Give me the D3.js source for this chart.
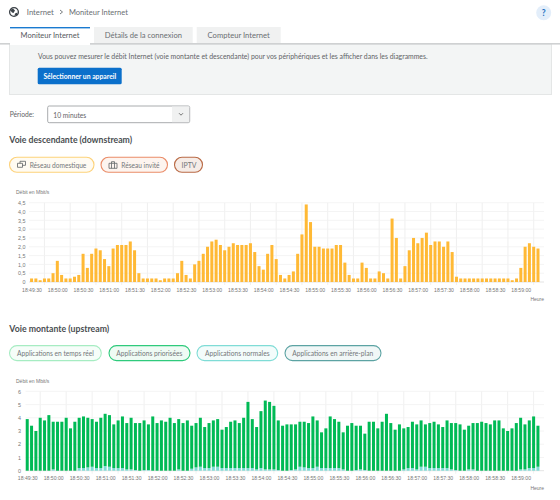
<!DOCTYPE html>
<html lang="fr">
<head>
<meta charset="utf-8">
<title>Moniteur Internet</title>
<script src="https://cdn.jsdelivr.net/npm/d3@7"></script>
<style>
    html, body { margin: 0; padding: 0; background: #fff; }
    svg { display: block; }
    text { font-family: Lato, sans-serif; }
    .chart text { font-family: "Liberation Sans", Arial, sans-serif; }
</style>
</head>
<body>
<div id="page"></div>
<script>
// bars come every 5 seconds, the first one is at 18:49:15
const startTime = new Date(2020, 0, 1, 18, 49, 15);

const downstream = [
    0.2,0.2,0.1,0.2,0.2,0.5,1.2,0.4,0.2,0.2,0.3,0.4,1.6,0.8,1.6,1.9,1.8,1.3,0.9,1.9,
    2.1,2.1,2.1,2.3,1.8,0.5,0.2,0.2,0.2,0.2,0.1,0.2,0.2,0.2,0.5,1.2,0.4,0.2,1.0,1.2,
    1.6,2.0,2.3,2.4,2.1,1.8,2.0,2.2,2.1,2.1,2.1,2.2,1.7,0.9,0.7,1.6,2.1,1.3,0.4,0.2,
    0.4,0.6,1.6,2.7,4.4,3.4,2.0,2.0,1.9,1.9,1.9,2.1,2.1,1.1,0.4,0.2,0.2,1.1,0.8,0.2,
    0.2,0.6,0.5,0.2,3.6,2.5,0.2,0.9,1.8,2.5,2.2,2.5,2.8,2.1,2.3,2.3,2.0,2.3,1.7,0.3,
    0.2,0.2,0.2,0.2,0.2,0.2,0.2,0.2,0.2,0.2,0.2,0.2,0.1,0.2,0.8,2.0,2.2,2.0,1.9
];

const upstreamTotal = [
    3.9,3.4,3.0,4.0,3.8,4.2,3.7,3.7,3.7,4.0,3.2,3.7,4.0,4.1,4.0,3.9,3.7,4.0,4.3,4.2,
    3.5,3.8,4.1,3.6,4.0,3.6,3.6,3.8,3.5,4.1,3.6,3.8,3.7,4.0,3.6,3.9,3.6,3.8,3.4,3.6,
    4.0,3.3,3.6,3.8,3.9,3.1,3.3,3.7,3.8,3.6,4.0,5.2,3.9,3.3,4.5,5.3,5.2,4.9,3.8,3.4,
    3.5,3.5,3.5,3.7,3.7,3.6,4.1,3.8,2.9,3.2,4.1,3.9,3.7,2.9,3.4,3.6,3.4,3.4,2.8,3.7,
    3.7,3.2,3.7,4.3,3.6,3.1,3.5,3.2,3.3,3.7,3.5,3.8,3.5,3.6,3.7,3.5,3.3,3.8,3.6,3.6,
    3.5,3.1,3.4,3.6,3.6,3.7,3.6,3.5,3.8,3.8,3.2,3.0,3.2,3.6,4.0,3.5,3.8,4.1,3.4
];

const upstreamNormal = [
    0,0,0,0,0,0,0.1,0,0,0,0,0,0.2,0.2,0.25,0.3,0.2,0.2,0.35,0.3,
    0.2,0.2,0.2,0.1,0.1,0.05,0,0.05,0.05,0,0,0,0,0,0,0.1,0,0,0.15,0.25,
    0.3,0.2,0.2,0.3,0.3,0.2,0.2,0.2,0.2,0.2,0.2,0.2,0.2,0.1,0.2,0.1,0.1,0.1,0.05,0,
    0,0.05,0.1,0.3,0.25,0.2,0.2,0.3,0.2,0.2,0.2,0.2,0.2,0.1,0,0,0.05,0.1,0.05,0,
    0,0,0,0,0,0,0,0.1,0.2,0.2,0.1,0.3,0.3,0.2,0.2,0.2,0.2,0.2,0.1,0.05,
    0,0,0.1,0.1,0,0,0,0,0,0,0,0,0,0,0.1,0.1,0.2,0.2,0.3
];

const downTicks = [0, 0.5, 1, 1.5, 2, 2.5, 3, 3.5, 4, 4.5];
const upTicks = [0, 1, 2, 3, 4, 5, 6];

const tabLabels = ['Moniteur Internet', 'Détails de la connexion', 'Compteur Internet'];
const downPills = ['Réseau domestique', 'Réseau invité', 'IPTV'];
const upPills = ['Applications en temps réel', 'Applications priorisées', 'Applications normales', 'Applications en arrière-plan'];

const svg = d3.select('#page').append('svg').attr('width', 560).attr('height', 500);

function addText(parent, x, y, str, size, color, weight, anchor) {
    return parent.append('text')
        .attr('x', x).attr('y', y)
        .attr('font-size', size)
        .attr('fill', color)
        .attr('font-weight', weight || 400)
        .attr('text-anchor', anchor || 'start')
        .text(str);
}

// the page font is not installed, so scale the closest one to the measured width
function fitText(parent, x, y, str, width, color, weight, anchor) {
    const t = addText(parent, x, y, str, 8, color, weight, anchor);
    t.attr('font-size', 8 * width / t.node().getComputedTextLength());
    return t;
}

// ---- page header
function drawHeader() {
    const globe = svg.append('g').attr('transform', 'translate(14,12)');
    globe.append('circle').attr('r', 4.4).attr('fill', '#fff').attr('stroke', '#3c4248').attr('stroke-width', 1.3);
    globe.append('path').attr('d', 'M-4,-2 L-1,-3.5 L1,-1.5 L-0.5,1 L-2,0.5 Z M0.5,4 L1,1.5 L3.5,0.5 L3,3 Z').attr('fill', '#3c4248');

    fitText(svg, 26.8, 15, 'Internet', 27, '#6a6e72');
    svg.append('path').attr('d', 'M60,10 L62.5,12 L60,14').attr('fill', 'none').attr('stroke', '#6a6e72').attr('stroke-width', 0.9);
    fitText(svg, 69, 15, 'Moniteur Internet', 59, '#6a6e72');

    svg.append('circle').attr('cx', 543.7).attr('cy', 12.7).attr('r', 7.5).attr('fill', '#e3eefa');
    addText(svg, 543.7, 15.7, '?', 8.5, '#1a6fc0', 700, 'middle');

    // info panel
    svg.append('rect').attr('x', 9.5).attr('y', 44).attr('width', 542).attr('height', 50.5)
        .attr('fill', '#f3f5f5').attr('stroke', '#e4e6e6');
    fitText(svg, 38, 58.8, 'Vous pouvez mesurer le débit Internet (voie montante et descendante) pour vos périphériques et les afficher dans les diagrammes.', 390, '#5f6366');
    svg.append('rect').attr('x', 37.7).attr('y', 67.7).attr('width', 84).attr('height', 16.6).attr('rx', 1.5).attr('fill', '#0b70cb');
    fitText(svg, 79.8, 78.5, 'Sélectionner un appareil', 73, '#fff', 700, 'middle');

    // tabs
    svg.append('rect').attr('x', 0).attr('y', 43).attr('width', 560).attr('height', 1.6).attr('fill', '#cfd1d2');
    const tabX = [10, 94, 196.7];
    const tabW = [80, 98.7, 84];
    const tabTextW = [59, 77.3, 62.3];
    tabLabels.forEach((label, i) => {
        svg.append('rect').attr('x', tabX[i]).attr('y', 27).attr('width', tabW[i]).attr('height', i === 0 ? 18 : 16)
            .attr('fill', i === 0 ? '#fff' : '#f0f1f1');
        fitText(svg, tabX[i] + tabW[i] / 2, 38, label, tabTextW[i], i === 0 ? '#55595c' : '#6a6e72', 400, 'middle');
    });
    svg.append('rect').attr('x', 10).attr('y', 27).attr('width', 80).attr('height', 1.4).attr('fill', '#1a7ad0');

    // period select
    fitText(svg, 9.7, 117, 'Période:', 24.3, '#5f6366');
    svg.append('rect').attr('x', 47.7).attr('y', 106).attr('width', 142).attr('height', 16.7).attr('rx', 1.5)
        .attr('fill', '#fff').attr('stroke', '#a9acae');
    svg.append('rect').attr('x', 172).attr('y', 106.5).attr('width', 17.2).attr('height', 15.7).attr('fill', '#f0f1f1');
    fitText(svg, 53.3, 117.5, '10 minutes', 33, '#5f6366');
    svg.append('path').attr('d', 'M179,113.2 L181,115.2 L183,113.2').attr('fill', 'none').attr('stroke', '#555').attr('stroke-width', 0.8);
}

// ---- the rounded filter buttons above each chart
function drawPills(labels, y, xs, widths, textXs, textWs, borders, fills, icons) {
    labels.forEach((label, i) => {
        svg.append('rect').attr('x', xs[i]).attr('y', y).attr('width', widths[i]).attr('height', 15).attr('rx', 7.5)
            .attr('fill', fills[i]).attr('stroke', borders[i]).attr('stroke-width', 1.1);
        fitText(svg, textXs[i], y + 10.3, label, textWs[i], '#74777a');
        if (icons && icons[i]) {
            svg.append('path')
                .attr('transform', `translate(${xs[i] + 8},${y + 4})`)
                .attr('d', icons[i])
                .attr('fill', 'none').attr('stroke', '#5f6366').attr('stroke-width', 0.8);
        }
    });
}

// ---- one bar chart
function drawChart(opts) {
    const g = svg.append('g').attr('class', 'chart');

    const x = d3.scaleTime()
        .domain([d3.timeSecond.offset(startTime, opts.leadSeconds), d3.timeSecond.offset(startTime, 597)])
        .range(opts.xRange);
    const y = d3.scaleLinear().domain(opts.yDomain).range(opts.yRange);
    const barWidth = 3;

    // grid
    const tickTimes = d3.timeSecond.every(30).range(d3.timeSecond.offset(startTime, 15), d3.timeSecond.offset(startTime, 597));
    g.append('g').selectAll('line').data(tickTimes).join('line')
        .attr('x1', d => x(d)).attr('x2', d => x(d))
        .attr('y1', opts.yRange[1]).attr('y2', opts.yRange[0] + 3)
        .attr('stroke', '#ececec').attr('stroke-width', 0.8);
    g.append('g').selectAll('line').data(opts.yTicks).join('line')
        .attr('x1', opts.xRange[0]).attr('x2', opts.xRange[1])
        .attr('y1', d => y(d)).attr('y2', d => y(d))
        .attr('stroke', d => d === 0 ? '#dcdcdc' : '#f1f1f1').attr('stroke-width', 0.8);

    // y axis
    const comma = d3.formatLocale({ decimal: ',', thousands: ' ', grouping: [3], currency: ['', ''] }).format('.1f');
    const yAxis = d3.axisLeft(y).tickValues(opts.yTicks).tickSize(0).tickPadding(opts.yPad)
        .tickFormat(d => d === 0 || opts.yTicks.length < 8 ? String(d) : comma(d));
    const yG = g.append('g').attr('transform', `translate(${opts.xRange[0]},0)`).call(yAxis);
    yG.select('.domain').remove();
    yG.selectAll('text').attr('font-size', 5.4).attr('fill', '#777');

    // x axis, the labels sit left of their grid lines
    const xAxis = d3.axisBottom(x).tickValues(tickTimes).tickSize(0).tickPadding(0)
        .tickFormat(d3.timeFormat('%H:%M:%S'));
    const xG = g.append('g').attr('transform', `translate(0,${opts.yRange[0] + 5.9})`).call(xAxis);
    xG.select('.domain').remove();
    xG.selectAll('text').attr('font-size', 5.1).attr('fill', '#777').attr('dx', -13);

    addText(g, opts.titleX, opts.titleY, 'Débit en Mbit/s', 5, '#777');
    addText(g, opts.xRange[1], opts.heureY, 'Heure', 5, '#777', 400, 'end');

    // bars, one stack per time slot
    const rows = opts.series[0].map((_, i) => {
        const row = { time: d3.timeSecond.offset(startTime, i * 5) };
        opts.series.forEach((s, k) => { row[k] = s[i]; });
        return row;
    });
    const stack = d3.stack().keys(opts.series.map((_, k) => k))(rows);
    g.append('g').selectAll('g').data(stack).join('g')
        .attr('fill', (d, k) => opts.colors[k])
        .selectAll('rect').data(d => d).join('rect')
        .attr('x', d => x(d.data.time) - barWidth / 2)
        .attr('width', barWidth)
        .attr('y', d => y(d[1]))
        .attr('height', d => y(d[0]) - y(d[1]));
}

drawHeader();

// ---- downstream
fitText(svg, 9.3, 143, 'Voie descendante (downstream)', 123, '#4a4e51', 700);
drawPills(downPills, 157.3, [9.5, 101, 174.5], [84.5, 66.5, 28], [29.7, 121.3, 181.5], [56.7, 38.4, 15],
    ['#fdd27a', '#ea8c68', '#b96a45'], ['#fffbf2', '#fdf4ef', '#f6ece7'],
    ['M0,2 h5 v4 h-5 z M2.5,2 v-2 h5.5 v4 h-3', 'M0,2 h8 v5 h-8 z M2.5,2 v5 M5.5,2 v5 M2.5,2 v-1.6 h3 v1.6', null]);
drawChart({
    series: [downstream],
    colors: ['#ffb935'],
    leadSeconds: -3,
    xRange: [29, 544],
    yRange: [282, 202.7],
    yDomain: [0, 4.5],
    yTicks: downTicks,
    yPad: 3.5,
    titleX: 16, titleY: 194,
    heureY: 300.8
});

// ---- upstream
fitText(svg, 9.3, 332, 'Voie montante (upstream)', 100, '#4a4e51', 700);
drawPills(upPills, 345.6, [9.5, 109, 197, 285], [91.8, 81, 80.7, 96], [17, 116.3, 205, 292.3], [77, 66.3, 64.7, 81],
    ['#a6ecc2', '#2fca7c', '#7fdcd6', '#5ca3a3'], ['#f6fdf9', '#effbf4', '#f3fcfb', '#f1f7f7'], null);
const upstreamPriority = upstreamTotal.map((v, i) => v - upstreamNormal[i]);
drawChart({
    series: [upstreamNormal, upstreamPriority],
    colors: ['#7fdcd6', '#00ba55'],
    leadSeconds: -2,
    xRange: [25.5, 544],
    yRange: [470.7, 391.3],
    yDomain: [0, 6],
    yTicks: upTicks,
    yPad: 4.5,
    titleX: 16, titleY: 383,
    heureY: 489.5
});
</script>
</body>
</html>
